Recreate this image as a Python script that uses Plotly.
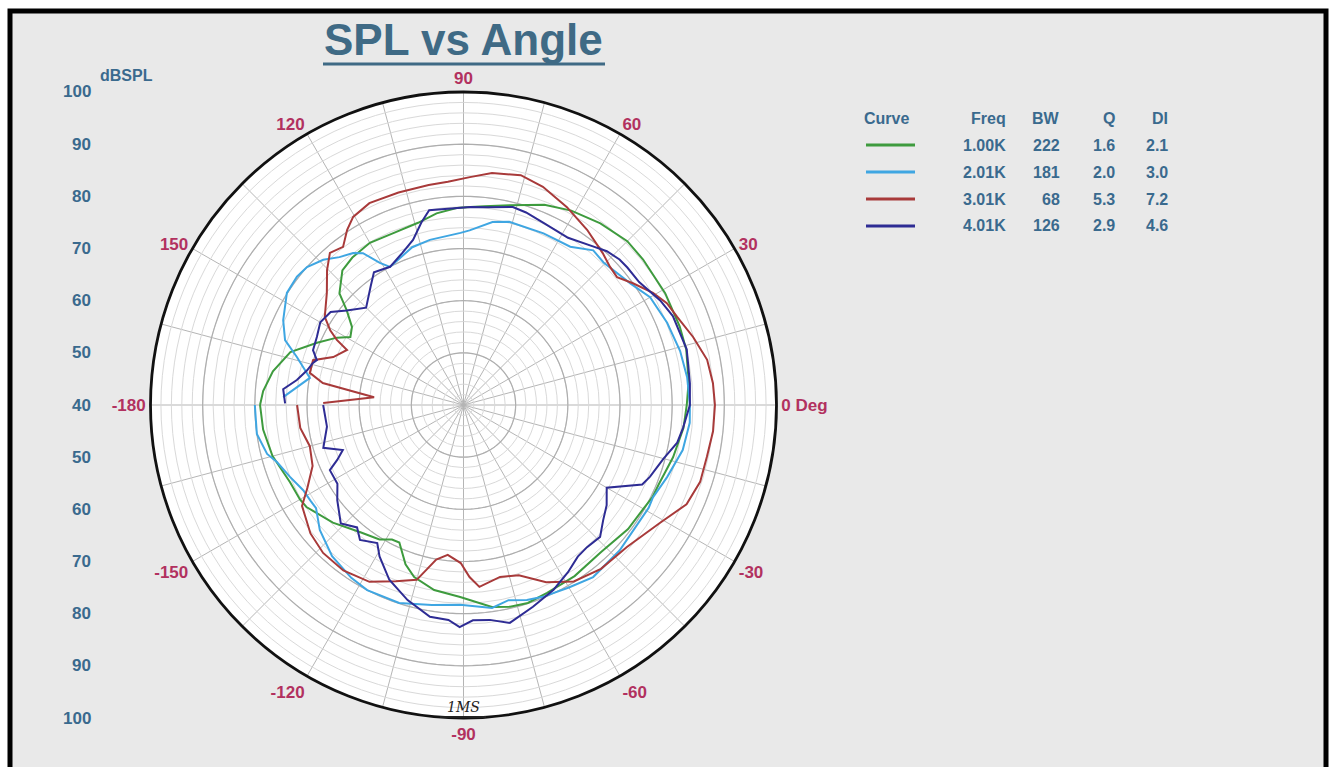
import plotly.graph_objects as go

W, H = 1332, 767

# ---------------- data (angle in degrees, level in dBSPL) ----------------
green_theta = [-180, -173, -165, -156, -150, -147, -138, -129, -122, -118, -115, -110, -106, -99, -91, -82, -77,
               -72, -66, -57, -47, -37, -30, -26, -22, -14, -6, 0, 6, 14, 20, 29, 39, 45, 53, 61, 68, 77, 84, 88,
               92, 98, 104, 112, 120, 127, 132, 138, 141, 145, 149, 152, 157, 163, 170, 176, 180]
green_db = [79.0, 78.7, 77.9, 76.4, 76.2, 75.9, 73.7, 71.4, 70.4, 69.2, 69.1, 72.5, 74.3, 75.9, 76.8, 79.1, 79.7,
            79.9, 79.4, 79.1, 78.6, 79.5, 79.8, 80.3, 80.4, 81.4, 82.4, 82.8, 83.4, 84.0, 84.1, 84.2, 84.3, 84.4,
            83.6, 82.6, 81.4, 79.3, 78.3, 78.0, 77.8, 77.1, 76.0, 75.6, 75.9, 75.4, 74.7, 72.0, 68.8, 66.1, 65.3,
            67.5, 70.5, 74.7, 77.1, 78.5, 79.0]

blue_theta = [-180, -172, -166, -163, -157.5, -152, -148, -145, -139, -131, -123, -117.5, -108, -99, -91, -82, -77,
              -72, -67.5, -60, -53, -43, -29, -26, -19.5, -11.6, -4.5, 0, 7, 14, 22, 30, 36, 45.5, 50, 56, 65, 76,
              81, 88, 91, 101.5, 108, 118, 120.5, 123.5, 126, 130, 134, 138.6, 142.4, 147.6, 154.8, 160, 164, 170,
              177.5]
blue_db = [80.0, 80.0, 78.8, 77.4, 76.0, 74.8, 74.6, 74.5, 76.5, 78.4, 79.5, 80.0, 79.9, 78.8, 78.3, 79.3, 78.4,
           79.3, 79.8, 80.4, 81.3, 80.9, 80.6, 80.4, 81.4, 82.9, 83.5, 83.4, 83.2, 82.8, 82.1, 81.3, 79.6, 78.3,
           78.7, 76.6, 76.3, 76.2, 75.5, 73.5, 73.0, 72.3, 71.8, 70.0, 71.6, 74.9, 76.0, 77.0, 78.7, 80.0, 80.3,
           80.1, 78.2, 76.4, 73.2, 69.9, 74.6]

red_theta = [-180, -172, -165, -158, -152, -148, -140, -133.5, -126, -118, -111, -105, -100, -96, -91, -88, -85,
             -78, -72, -65, -58, -50, -41, -31, -24, -18, -12, -6, 0, 5, 10.5, 16.5, 22.4, 26.6, 30.6, 35.7, 39.8,
             43.3, 47.5, 54.8, 62.4, 70, 76, 83, 88.4, 94, 99, 107, 115, 120.4, 123.6, 127.3, 131.3, 135.3, 140.6,
             147.6, 150.7, 152.8, 154.7, 159.8, 163.4, 168.2, 171.1, 175, 179.2]
red_db = [71.9, 71.6, 70.5, 71.2, 73.9, 76.5, 78.3, 79.1, 79.2, 78.4, 76.2, 74.7, 70.1, 68.9, 70.3, 73.0, 75.0,
          73.7, 74.3, 77.5, 79.9, 81.0, 81.5, 83.9, 86.8, 87.7, 87.7, 88.1, 88.2, 88.0, 87.5, 85.9, 84.3, 83.6,
          82.2, 80.0, 78.3, 78.6, 79.5, 81.1, 82.8, 84.5, 85.4, 84.8, 83.7, 82.9, 82.7, 82.6, 82.7, 81.8, 80.3,
          78.1, 78.8, 76.8, 73.9, 71.5, 69.3, 67.3, 64.7, 66.6, 70.1, 70.1, 67.3, 57.2, 66.9]

navy_theta = [-180, -171, -163, -159.5, -156.5, -154, -148, -143, -136, -131, -127.5, -122, -119, -113, -106, -99,
              -94, -91, -87.5, -83, -78, -71, -64, -58, -53, -49, -44, -39.5, -35, -30, -24, -21, -15, -10, -6, 0,
              5.5, 14, 23, 28, 35, 40, 43, 47, 51, 58, 66, 72, 76, 83, 88, 100, 103, 107, 112, 118, 124, 128, 135,
              141, 145, 150, 155, 160, 163, 164.5, 167.5, 171.5, 175, 179.5]
navy_db = [66.9, 66.5, 68.1, 64.7, 66.4, 68.5, 68.5, 70.3, 72.7, 71.1, 72.6, 71.2, 73.2, 76.4, 78.9, 81.1, 81.3,
           82.6, 81.3, 81.5, 82.7, 80.9, 79.4, 77.8, 76.4, 76.1, 76.4, 74.7, 73.5, 71.7, 77.5, 78.3, 79.7, 81.6,
           82.3, 83.4, 83.6, 84.1, 83.6, 82.7, 81.1, 81.0, 80.9, 80.3, 79.2, 77.8, 78.1, 78.8, 79.1, 78.2, 78.0,
           77.9, 75.9, 73.1, 71.4, 70.0, 70.7, 68.9, 66.4, 68.8, 71.1, 71.7, 71.0, 70.7, 69.4, 70.0, 70.7, 72.3,
           74.7, 74.2]

curve_freq = ["1.00K", "2.01K", "3.01K", "4.01K"]
curve_bw = ["222", "181", "68", "126"]
curve_q = ["1.6", "2.0", "5.3", "2.9"]
curve_di = ["2.1", "3.0", "7.2", "4.6"]
curve_colors = ["#3E9B3E", "#3FA6E2", "#A83A3A", "#2E2C94"]

angle_tickvals = list(range(0, 360, 15))
angle_ticktext = ["0 Deg", "", "30", "", "60", "", "90", "", "120", "", "150", "",
                  "-180", "", "-150", "", "-120", "", "-90", "", "-60", "", "-30", ""]
r_min, r_max = 40, 100
major_rings = [50, 60, 70, 80, 90]
left_labels_top = [100, 90, 80, 70, 60, 50, 40]
left_labels_bottom = [50, 60, 70, 80, 90, 100]

# ---------------- layout geometry ----------------
px_left, px_right, px_top, px_bottom = 150, 777, 92, 718
cx = (px_left + px_right) / 2
cy = (px_top + px_bottom) / 2
R = (px_bottom - px_top) / 2

LABEL_BLUE = "#3A6A8E"
CRIMSON = "#B2315F"
FONT = "Liberation Sans, Arial, sans-serif"

fig = go.Figure()

# darker 10-dB rings
ring_theta = list(range(0, 361, 2))
for lvl in major_rings:
    fig.add_trace(go.Scatterpolar(r=[lvl] * len(ring_theta), theta=ring_theta, mode="lines",
                                  line=dict(color="#AEAEAE", width=1.2), hoverinfo="skip",
                                  showlegend=False))

for th, db, col in zip([green_theta, blue_theta, red_theta, navy_theta],
                       [green_db, blue_db, red_db, navy_db], curve_colors):
    fig.add_trace(go.Scatterpolar(r=db, theta=th, mode="lines",
                                  line=dict(color=col, width=2), showlegend=False))

fig.update_layout(
    width=W, height=H,
    margin=dict(l=0, r=0, t=0, b=0),
    paper_bgcolor="white",
    showlegend=False,
    polar=dict(
        domain=dict(x=[px_left / W, px_right / W], y=[1 - px_bottom / H, 1 - px_top / H]),
        bgcolor="white",
        radialaxis=dict(range=[r_min, r_max], tickvals=list(range(r_min, r_max + 1, 2)),
                        showticklabels=False, ticks="", showline=False,
                        gridcolor="#D9D9D9", gridwidth=1),
        angularaxis=dict(direction="counterclockwise", rotation=0,
                         tickvals=angle_tickvals, ticktext=angle_ticktext, ticks="",
                         tickfont=dict(family=FONT, size=17, color=CRIMSON, weight="bold"),
                         gridcolor="#B5B5B5", gridwidth=1,
                         showline=True, linecolor="#111111", linewidth=2.8),
    ),
)

shapes = []
# grey panel with black frame
shapes.append(dict(type="rect", xref="paper", yref="paper", x0=10 / W, x1=1326 / W, y0=-0.05, y1=1 - 11 / H,
                   line=dict(color="black", width=5), fillcolor="#E9E9E9", layer="below"))
# title underline
shapes.append(dict(type="line", xref="paper", yref="paper", x0=323 / W, x1=605 / W,
                   y0=1 - 64 / H, y1=1 - 64 / H, line=dict(color="#3F6A85", width=3)))

annotations = []
annotations.append(dict(text="<b>SPL vs Angle</b>", x=464 / W, y=1 - 40 / H, xref="paper", yref="paper",
                        showarrow=False, xanchor="center", yanchor="middle",
                        font=dict(family=FONT, size=44, color="#3F6A85")))
annotations.append(dict(text="<b>dBSPL</b>", x=98 / W, y=1 - 75 / H, xref="paper", yref="paper",
                        showarrow=False, xanchor="left", yanchor="middle",
                        font=dict(family=FONT, size=16, color=LABEL_BLUE)))
for lvl in left_labels_top:
    ypx = cy - (lvl - r_min) / (r_max - r_min) * R
    annotations.append(dict(text="<b>%d</b>" % lvl, x=93 / W, y=1 - ypx / H, xref="paper", yref="paper",
                            showarrow=False, xanchor="right", yanchor="middle",
                            font=dict(family=FONT, size=17, color=LABEL_BLUE)))
for lvl in left_labels_bottom:
    ypx = cy + (lvl - r_min) / (r_max - r_min) * R
    annotations.append(dict(text="<b>%d</b>" % lvl, x=93 / W, y=1 - ypx / H, xref="paper", yref="paper",
                            showarrow=False, xanchor="right", yanchor="middle",
                            font=dict(family=FONT, size=17, color=LABEL_BLUE)))

# handwritten note
annotations.append(dict(text="<i>1MS</i>", x=cx / W, y=1 - 707 / H, xref="paper", yref="paper",
                        showarrow=False, xanchor="center", yanchor="middle",
                        font=dict(family="DejaVu Serif", size=14, color="#222222")))
shapes.append(dict(type="line", xref="paper", yref="paper", x0=440 / W, x1=486 / W,
                   y0=1 - 717 / H, y1=1 - 717 / H, line=dict(color="#222222", width=2)))

# legend table
col_right = [1008, 1062, 1117, 1170]
headers = ["Freq", "BW", "Q", "DI"]
header_y = 118
row_y = [145, 172, 199, 226]
annotations.append(dict(text="<b>Curve</b>", x=862 / W, y=1 - header_y / H, xref="paper", yref="paper",
                        showarrow=False, xanchor="left", yanchor="middle",
                        font=dict(family=FONT, size=16, color=LABEL_BLUE)))
for hx, ht in zip(col_right, headers):
    annotations.append(dict(text="<b>%s</b>" % ht, x=hx / W, y=1 - header_y / H, xref="paper", yref="paper",
                            showarrow=False, xanchor="right", yanchor="middle",
                            font=dict(family=FONT, size=16, color=LABEL_BLUE)))
for i in range(4):
    yy = 1 - row_y[i] / H
    shapes.append(dict(type="line", xref="paper", yref="paper", x0=866 / W, x1=915 / W, y0=yy, y1=yy,
                       line=dict(color=curve_colors[i], width=3)))
    for hx, val in zip(col_right, [curve_freq[i], curve_bw[i], curve_q[i], curve_di[i]]):
        annotations.append(dict(text="<b>%s</b>" % val, x=hx / W, y=yy, xref="paper", yref="paper",
                                showarrow=False, xanchor="right", yanchor="middle",
                                font=dict(family=FONT, size=16, color=LABEL_BLUE)))

fig.update_layout(shapes=shapes, annotations=annotations)
fig.write_html("out.html", config={"displayModeBar": False},
               post_script="document.body.style.margin='0';document.body.style.overflow='hidden';")
